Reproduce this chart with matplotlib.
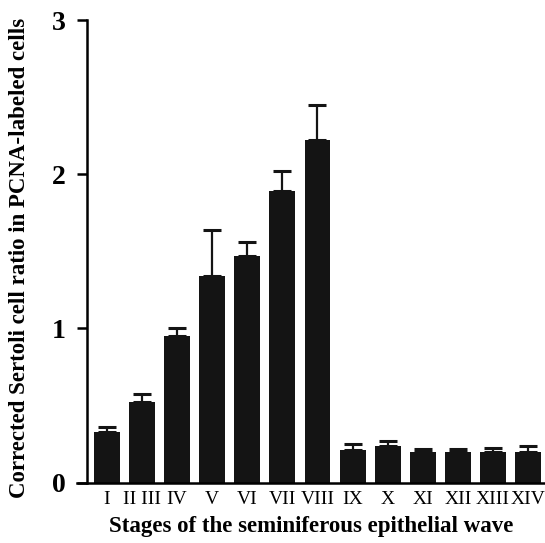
import matplotlib
matplotlib.use("Agg")
import matplotlib.pyplot as plt
import numpy as np

# PCNA-labelled Sertoli cell ratio per stage (mean and upper SE)
stages = ["I", "II III", "IV", "V", "VI", "VII", "VIII",
          "IX", "X", "XI", "XII", "XIII", "XIV"]
means = [0.33, 0.52, 0.95, 1.34, 1.47, 1.89, 2.22,
         0.21, 0.24, 0.20, 0.20, 0.20, 0.20]
errs = [0.03, 0.055, 0.055, 0.30, 0.09, 0.13, 0.23,
        0.04, 0.03, 0.02, 0.015, 0.025, 0.04]

plt.rcParams.update({
    "font.family": "serif",
    "font.serif": ["Liberation Serif", "DejaVu Serif"],
})

fig = plt.figure(figsize=(5.45, 5.43), dpi=100)
ax = fig.add_axes([77 / 545, 1 - 482.5 / 543, 1 - 77 / 545, (482.5 - 20.2) / 543])

x = np.arange(len(stages))
ax.bar(x, means, width=0.74, color="#141414", zorder=2)
ax.errorbar(x, means, yerr=[np.zeros(len(errs)), errs], fmt="none",
            ecolor="#141414", elinewidth=1.6, capsize=6.8, capthick=2.2, zorder=1)

ax.set_xlim(-0.85, 12.48)
ax.set_ylim(0, 3)
for s in ("top", "right"):
    ax.spines[s].set_visible(False)
ax.spines["left"].set_position(("data", -0.57))
ax.spines["left"].set_linewidth(1.8)
ax.spines["bottom"].set_linewidth(1.8)

ax.set_yticks([0, 1, 2, 3])
ax.set_yticklabels(["0", "1", "2", "3"], fontsize=20, fontweight="bold")
ax.tick_params(axis="y", direction="out", length=7.2, width=1.8, pad=8)

ax.set_xticks(x)
ax.set_xticklabels(stages, fontsize=14)
ax.tick_params(axis="x", length=0, pad=6)

ax.set_ylabel("Corrected Sertoli cell ratio in PCNA-labeled cells",
              fontsize=16.5, fontweight="bold")
ax.set_xlabel("Stages of the seminiferous epithelial wave",
              fontsize=16.5, fontweight="bold", labelpad=6)
ax.yaxis.set_label_coords(-0.10, 0.486)

fig.savefig("out.png", dpi=100)
